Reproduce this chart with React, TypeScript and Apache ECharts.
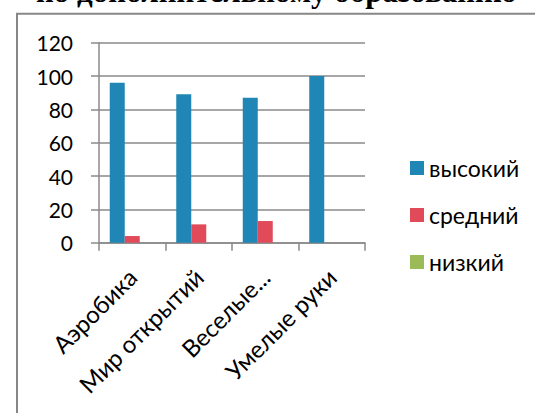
import React, { useEffect, useRef } from "react";
import * as echarts from "echarts";

const categories = ["Аэробика", "Мир открытий", "Веселые...", "Умелые руки"];
const seriesNames = ["высокий", "средний", "низкий"];
const highValues = [96, 89, 87, 100];
const midValues = [4, 11, 13, 0];
const lowValues = [0, 0, 0, 0];
const yTicks = { min: 0, max: 120, interval: 20 };
const titleText = "по дополнительному образованию";

const COLORS = ["#1f86b5", "#e04a59", "#9bbb59"];
const AXIS_GRAY = "#8a8a8a";
const FONT = "Lato";

export default function App() {
  const ref = useRef<HTMLDivElement>(null);
  useEffect(() => {
    document.body.style.margin = "0";
    if (!ref.current) return;
    const chart = echarts.init(ref.current, null, { renderer: "svg" });
    const values = [highValues, midValues, lowValues];
    chart.setOption({
      animation: false,
      backgroundColor: "#ffffff",
      color: COLORS,
      textStyle: { fontFamily: FONT },
      graphic: [
        {
          type: "rect",
          shape: { x: 17, y: 13.7, width: 700, height: 600 },
          style: { fill: "none", stroke: "#878787", lineWidth: 2 },
          silent: true,
        },
        {
          type: "text",
          x: 36,
          y: -9,
          style: {
            text: titleText,
            font: "bold 31px 'Liberation Serif', 'Times New Roman', serif",
            fill: "#000",
            verticalAlign: "middle",
            align: "left",
          },
          silent: true,
        },
      ],
      legend: {
        orient: "vertical",
        left: 410,
        top: 156.5,
        padding: 0,
        itemWidth: 14,
        itemHeight: 14,
        itemGap: 24,
        icon: "rect",
        data: seriesNames,
        textStyle: { fontSize: 23, lineHeight: 23, color: "#000", fontFamily: FONT },
      },
      grid: { left: 99, right: 170, top: 42.7, bottom: 170.3, containLabel: false },
      xAxis: {
        type: "category",
        data: categories,
        boundaryGap: true,
        axisLine: { show: true, lineStyle: { color: AXIS_GRAY, width: 1.5 } },
        axisTick: { show: true, length: 8, inside: false, alignWithLabel: false, lineStyle: { color: AXIS_GRAY, width: 1.5 } },
        axisLabel: { rotate: 45, margin: 30, fontSize: 24, color: "#000", fontFamily: FONT, interval: 0 },
      },
      yAxis: {
        type: "value",
        min: yTicks.min,
        max: yTicks.max,
        interval: yTicks.interval,
        axisLine: { show: true, lineStyle: { color: AXIS_GRAY, width: 1.5 } },
        axisTick: { show: true, length: 8, lineStyle: { color: AXIS_GRAY, width: 1.5 } },
        splitLine: { show: true, lineStyle: { color: AXIS_GRAY, width: 1.5 } },
        axisLabel: { margin: 26, fontSize: 21, color: "#000", fontFamily: FONT },
      },
      series: seriesNames.map((name, i) => ({
        name,
        type: "bar",
        data: values[i],
        barWidth: 15,
        barGap: "0%",
        itemStyle: { color: COLORS[i] },
      })),
    });
    return () => chart.dispose();
  }, []);
  return <div ref={ref} style={{ width: 535, height: 413 }} />;
}
